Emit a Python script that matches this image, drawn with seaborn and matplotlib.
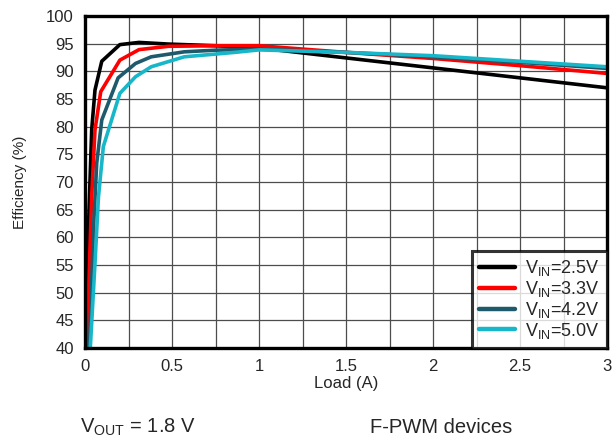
import pandas as pd
import numpy as np
import seaborn as sns
import matplotlib.pyplot as plt
from matplotlib.ticker import MultipleLocator

# efficiency vs load
load_25 = [0.01, 0.019, 0.038, 0.057, 0.096, 0.2, 0.31, 0.48, 0.75, 1.0, 1.5, 2.0, 2.5, 3.0]
eff_25 = [40, 61.3, 79.4, 86.6, 91.8, 94.8, 95.2, 94.9, 94.6, 94.2, 92.4, 90.6, 88.8, 87.0]

load_33 = [0.013, 0.019, 0.038, 0.057, 0.09, 0.2, 0.31, 0.48, 0.75, 1.0, 1.5, 2.0, 2.5, 3.0]
eff_33 = [40, 49.2, 67.3, 79.4, 86.3, 92.0, 93.9, 94.5, 94.6, 94.6, 93.4, 92.3, 91.0, 89.6]

load_42 = [0.025, 0.048, 0.067, 0.096, 0.19, 0.29, 0.38, 0.57, 0.75, 1.0, 1.5, 2.0, 2.5, 3.0]
eff_42 = [40, 61.3, 73.4, 81.2, 88.8, 91.4, 92.6, 93.5, 93.8, 94.0, 93.4, 92.6, 91.6, 90.5]

load_50 = [0.03, 0.057, 0.077, 0.105, 0.2, 0.29, 0.38, 0.57, 0.86, 1.0, 1.5, 2.0, 2.5, 3.0]
eff_50 = [40, 55.3, 67.3, 76.4, 86.0, 89.0, 90.8, 92.6, 93.4, 93.85, 93.4, 92.8, 91.8, 90.8]

labels = [r'V$_{\mathrm{IN}}$=2.5V', r'V$_{\mathrm{IN}}$=3.3V',
          r'V$_{\mathrm{IN}}$=4.2V', r'V$_{\mathrm{IN}}$=5.0V']
colors = ['#000000', '#ff0000', '#1e5a6b', '#17b6c8']

frames = []
for lab, x, y in zip(labels, [load_25, load_33, load_42, load_50],
                     [eff_25, eff_33, eff_42, eff_50]):
    frames.append(pd.DataFrame({'load': x, 'eff': y, 'vin': lab}))
df = pd.concat(frames, ignore_index=True)

sns.set_style('white')
plt.rcParams['font.family'] = ['Liberation Sans', 'DejaVu Sans']
plt.rcParams['mathtext.fontset'] = 'custom'
plt.rcParams['mathtext.rm'] = 'Liberation Sans'
plt.rcParams['mathtext.it'] = 'Liberation Sans'

fig = plt.figure(figsize=(6.12, 4.4), dpi=100)
ax = fig.add_axes([0.139, 0.209, 0.853, 0.755])

sns.lineplot(data=df, x='load', y='eff', hue='vin', palette=colors,
             hue_order=labels, estimator=None, sort=False, linewidth=2.6, ax=ax)

ax.set_xlim(0, 3)
ax.set_ylim(40, 100)
ax.xaxis.set_minor_locator(MultipleLocator(0.25))
ax.yaxis.set_major_locator(MultipleLocator(5))
ax.set_xticks([0, 0.5, 1, 1.5, 2, 2.5, 3], labels=['0', '0.5', '1', '1.5', '2', '2.5', '3'])
ax.grid(which='both', color='0.3', linewidth=0.9)
ax.tick_params(which='both', length=0, labelsize=12, pad=8)
for s in ax.spines.values():
    s.set_color('black')
    s.set_linewidth(2.4)

ax.set_xlabel('Load (A)', fontsize=12, labelpad=1)
ax.set_ylabel('Efficiency (%)', fontsize=11, labelpad=14)

leg = ax.legend(loc='lower right', fontsize=13, frameon=True, fancybox=False,
                borderaxespad=0, handlelength=2.0, handletextpad=0.55,
                labelspacing=0.05, borderpad=0.4)
leg.get_frame().set_edgecolor('black')
leg.get_frame().set_linewidth(2.2)
for h in leg.get_lines():
    h.set_linewidth(3.2)

fig.text(0.13, 0.017, r'V$_{\mathrm{OUT}}$ = 1.8 V', fontsize=14.5)
fig.text(0.605, 0.017, 'F-PWM devices', fontsize=14.5)

plt.savefig('out.png', dpi=100)
